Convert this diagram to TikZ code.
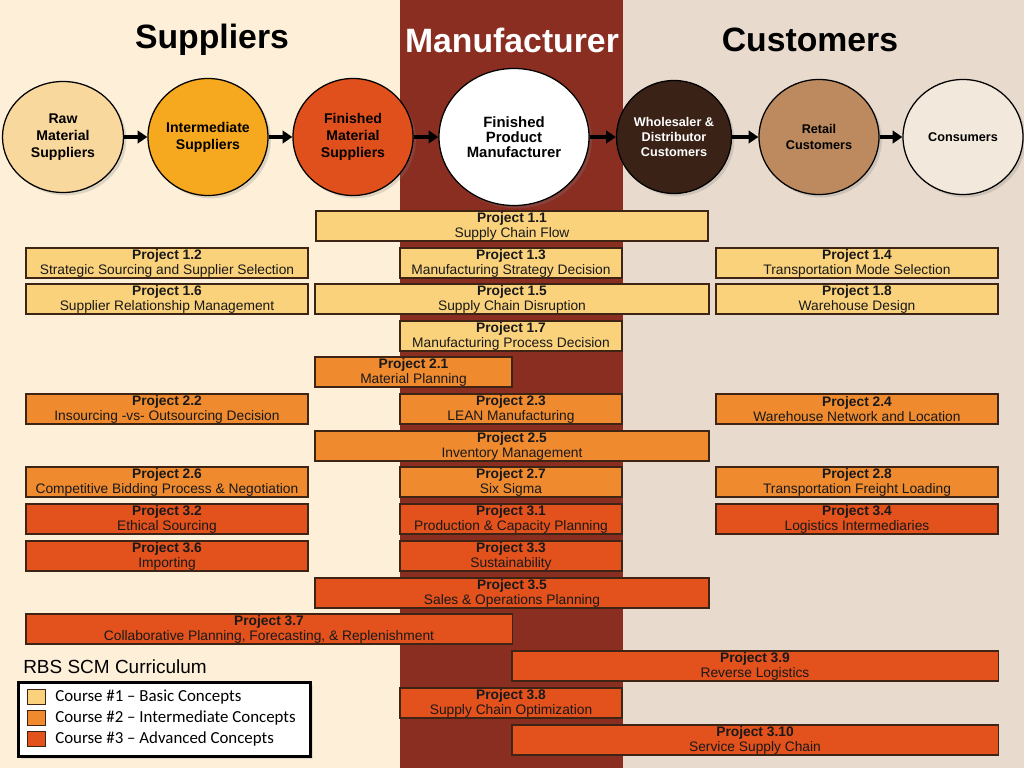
\documentclass[tikz,border=0pt]{standalone}
\usepackage{fontspec}
\setmainfont{Liberation Sans}
\newfontfamily\legendfont{Carlito}
\usepackage{xcolor}
\definecolor{SupplierBg}  {RGB}{253, 239, 216}
\definecolor{MakerBg}     {RGB}{139,  46,  34}
\definecolor{CustomerBg}  {RGB}{232, 218, 204}
\definecolor{RawFill}     {RGB}{248, 216, 156}
\definecolor{InterFill}   {RGB}{246, 168,  31}
\definecolor{FinishFill}  {RGB}{224,  80,  28}
\definecolor{WholeFill}   {RGB}{ 58,  34,  22}
\definecolor{RetailFill}  {RGB}{188, 138,  94}
\definecolor{ConsFill}    {RGB}{243, 232, 220}
\definecolor{CourseOne}   {RGB}{251, 210, 124}
\definecolor{CourseTwo}   {RGB}{239, 138,  47}
\definecolor{CourseThree} {RGB}{227,  81,  28}
\definecolor{BarEdge}     {RGB}{ 61,  36,  20}
\usetikzlibrary{
  shapes.geometric,
  arrows.meta,
  shadows
}

\begin{document}
\begin{tikzpicture}[
  x=0.025cm, y=-0.025cm,
  stage/.style={
    ellipse, draw=black, line width=0.9pt,
    inner sep=0pt, align=center,
    font=\fontsize{10}{12}\selectfont\bfseries,
    drop shadow={opacity=0.25, shadow xshift=2pt, shadow yshift=-2pt}
  },
  flow/.style={line width=2.6pt, -{Triangle[length=7pt, width=9pt]}},
  heading/.style={font=\fontsize{24}{28}\selectfont\bfseries},
  project/.style={
    draw=BarEdge, line width=0.8pt,
    minimum height=0.75cm, inner sep=0pt,
    align=center, text=black!90,
    font=\fontsize{9.8}{10.6}\selectfont
  },
  c1/.style={project, fill=CourseOne},
  c2/.style={project, fill=CourseTwo},
  c3/.style={project, fill=CourseThree},
  swatch/.style={
    draw=BarEdge, line width=0.6pt,
    minimum width=0.45cm, minimum height=0.375cm, inner sep=0pt
  },
  entry/.style={anchor=west, inner sep=0pt, font=\legendfont\fontsize{12}{14}\selectfont}
]
\useasboundingbox (0,0) rectangle (1024,768);

% Bandes de fond
\fill[SupplierBg] (0,0) rectangle (400,768);
\fill[MakerBg]    (400,0) rectangle (623,768);
\fill[CustomerBg] (623,0) rectangle (1024,768);

\node[heading] (hsup)  at (212,40) {Suppliers};
\node[heading, text=white] (hman) at (512,40) {Manufacturer};
\node[heading] (hcus)  at (810,40) {Customers};

% Chaine d'acteurs
\node[stage, fill=RawFill, minimum width=3.025cm, minimum height=2.775cm] (raw) at (63,137)
  {Raw\\Material\\Suppliers};
\node[stage, fill=InterFill, minimum width=3.0cm, minimum height=2.925cm] (inter) at (208,137)
  {Intermediate\\Suppliers};
\node[stage, fill=FinishFill, minimum width=3.0cm, minimum height=2.925cm] (finish) at (353,137)
  {Finished\\Material\\Suppliers};
\node[stage, fill=white, minimum width=3.75cm, minimum height=3.425cm,
  font=\fontsize{10.6}{10.8}\selectfont\bfseries] (maker) at (514,137)
  {Finished\\Product\\Manufacturer};
\node[stage, fill=WholeFill, text=white, minimum width=2.875cm, minimum height=2.825cm,
  font=\fontsize{9}{10.8}\selectfont\bfseries] (whole) at (674,137)
  {Wholesaler \&\\Distributor\\Customers};
\node[stage, fill=RetailFill, minimum width=3.0cm, minimum height=2.875cm,
  font=\fontsize{9}{11.2}\selectfont\bfseries] (retail) at (819,137)
  {Retail\\Customers};
\node[stage, fill=ConsFill, minimum width=3.0cm, minimum height=2.875cm,
  font=\fontsize{9}{11}\selectfont\bfseries] (cons) at (963,137)
  {Consumers};

\draw[flow] (raw) -- (inter);
\draw[flow] (inter) -- (finish);
\draw[flow] (finish) -- (maker);
\draw[flow] (maker) -- (whole);
\draw[flow] (whole) -- (retail);
\draw[flow] (retail) -- (cons);

% Course #1
\node[c1, minimum width=9.8cm]  (p11) at (512,226) {\textbf{Project 1.1}\\Supply Chain Flow};
\node[c1, minimum width=7.05cm] (p12) at (167,263) {\textbf{Project 1.2}\\Strategic Sourcing and Supplier Selection};
\node[c1, minimum width=5.55cm] (p13) at (511,263) {\textbf{Project 1.3}\\Manufacturing Strategy Decision};
\node[c1, minimum width=7.05cm] (p14) at (857,263) {\textbf{Project 1.4}\\Transportation Mode Selection};
\node[c1, minimum width=9.85cm] (p15) at (512,299) {\textbf{Project 1.5}\\Supply Chain Disruption};
\node[c1, minimum width=7.05cm] (p16) at (167,299) {\textbf{Project 1.6}\\Supplier Relationship Management};
\node[c1, minimum width=5.55cm] (p17) at (511,336) {\textbf{Project 1.7}\\Manufacturing Process Decision};
\node[c1, minimum width=7.05cm] (p18) at (857,299) {\textbf{Project 1.8}\\Warehouse Design};

% Course #2
\node[c2, minimum width=4.925cm] (p21) at (413.5,372) {\textbf{Project 2.1}\\Material Planning};
\node[c2, minimum width=7.05cm]  (p22) at (167,409) {\textbf{Project 2.2}\\Insourcing -vs- Outsourcing Decision};
\node[c2, minimum width=5.55cm]  (p23) at (511,409) {\textbf{Project 2.3}\\LEAN Manufacturing};
\node[c2, minimum width=7.05cm]  (p24) at (857,409) {\textbf{Project 2.4}\\Warehouse Network and Location};
\node[c2, minimum width=9.85cm]  (p25) at (512,446) {\textbf{Project 2.5}\\Inventory Management};
\node[c2, minimum width=7.05cm]  (p26) at (167,482) {\textbf{Project 2.6}\\Competitive Bidding Process \& Negotiation};
\node[c2, minimum width=5.55cm]  (p27) at (511,482) {\textbf{Project 2.7}\\Six Sigma};
\node[c2, minimum width=7.05cm]  (p28) at (857,482) {\textbf{Project 2.8}\\Transportation Freight Loading};

% Course #3
\node[c3, minimum width=5.55cm]  (p31) at (511,519) {\textbf{Project 3.1}\\Production \& Capacity Planning};
\node[c3, minimum width=7.05cm]  (p32) at (167,519) {\textbf{Project 3.2}\\Ethical Sourcing};
\node[c3, minimum width=5.55cm]  (p33) at (511,556) {\textbf{Project 3.3}\\Sustainability};
\node[c3, minimum width=7.05cm]  (p34) at (857,519) {\textbf{Project 3.4}\\Logistics Intermediaries};
\node[c3, minimum width=9.85cm]  (p35) at (512,593) {\textbf{Project 3.5}\\Sales \& Operations Planning};
\node[c3, minimum width=7.05cm]  (p36) at (167,556) {\textbf{Project 3.6}\\Importing};
\node[c3, minimum width=12.15cm] (p37) at (269,629) {\textbf{Project 3.7}\\Collaborative Planning, Forecasting, \& Replenishment};
\node[c3, minimum width=5.55cm]  (p38) at (511,703) {\textbf{Project 3.8}\\Supply Chain Optimization};
\node[c3, minimum width=12.15cm] (p39) at (755,666) {\textbf{Project 3.9}\\Reverse Logistics};
\node[c3, minimum width=12.15cm] (p310) at (755,740) {\textbf{Project 3.10}\\Service Supply Chain};

% Legende
\node[anchor=west, inner sep=0pt, font=\fontsize{13.5}{16}\selectfont] (title) at (23,667) {RBS SCM Curriculum};
\node[draw=black, line width=2pt, fill=white, minimum width=7.3cm, minimum height=1.85cm,
  drop shadow={opacity=0.2, shadow xshift=1.5pt, shadow yshift=-1.5pt}] (legend) at (164.5,719.5) {};
\node[swatch, fill=CourseOne]   (s1) at (36,697) {};
\node[swatch, fill=CourseTwo]   (s2) at (36,718) {};
\node[swatch, fill=CourseThree] (s3) at (36,739) {};
\node[entry] (e1) at (55,697) {Course \#1 – Basic Concepts};
\node[entry] (e2) at (55,718) {Course \#2 – Intermediate Concepts};
\node[entry] (e3) at (55,739) {Course \#3 – Advanced Concepts};
\end{tikzpicture}
\end{document}
